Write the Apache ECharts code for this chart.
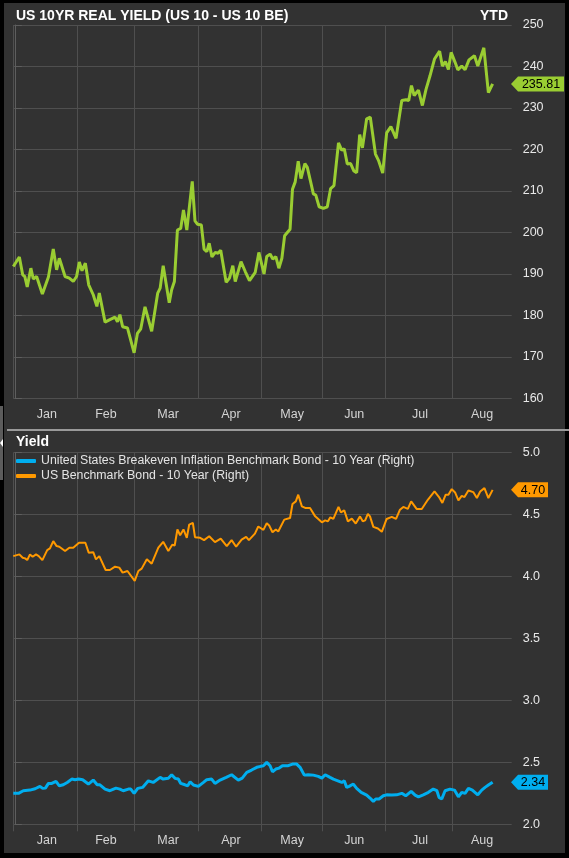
<!DOCTYPE html>
<html>
<head>
<meta charset="utf-8">
<script src="https://cdn.jsdelivr.net/npm/echarts@6/dist/echarts.min.js"></script>
<style>
html,body{margin:0;padding:0;background:#000;}
#c{width:569px;height:858px;}
</style>
</head>
<body>
<div id="c"></div>
<script>
// x positions: trading-session index from the first January session
var monthNames = ['Jan','Feb','Mar','Apr','May','Jun','Jul','Aug'];
var monthStarts = [-0.5, 20.5, 39.5, 60.5, 81.5, 101.5, 122.5, 144.5];
var monthMids = [10.6, 30.1, 50.6, 71.4, 91.6, 112.1, 133.8, 154.3];

// US 10YR real yield (bp)
var realX = [-0.5,1.5,2.6,3.3,4.1,5.3,6.1,7.2,9.1,11.1,12.7,13.8,14.7,16.6,18.0,19.3,20.4,21.3,22.2,23.3,24.4,25.9,27.1,27.9,29.8,31.4,33.1,33.9,34.7,35.6,37.2,39.4,40.5,41.6,43.0,45.2,47.2,48.0,49.0,51.0,51.8,52.7,53.7,54.8,55.7,56.8,58.6,59.5,60.3,61.6,62.5,63.4,64.2,65.1,66.2,67.1,68.0,69.8,70.9,72.0,72.8,74.7,76.1,77.5,79.4,80.6,82.3,83.2,84.3,85.2,86.2,87.2,88.2,89.1,90.9,91.7,92.6,93.6,94.5,95.8,96.6,97.7,98.6,99.4,100.5,101.9,103.2,104.3,105.4,106.9,108.0,108.8,109.8,110.9,112.0,112.9,113.9,114.8,116.2,117.4,119.1,120.1,121.5,122.8,124.2,125.9,127.8,129.2,130.1,131.0,131.9,133.3,134.6,135.8,137.1,138.6,140.3,141.2,142.2,143.2,144.1,145.4,146.3,147.6,148.7,150.0,151.8,152.9,154.9,156.4,157.8];
var realY = [191.8,194.1,189.8,189.4,186.9,191.4,188.8,189.4,185.2,189.3,196.0,191.0,193.8,189.4,189.0,188.2,189.4,192.9,190.8,192.6,187.4,185.0,182.2,185.4,178.4,179.0,179.6,178.5,180.2,177.3,177.0,171.0,175.7,176.8,182.1,176.2,185.4,186.6,192.0,183.1,186.2,188.2,200.6,201.0,205.4,200.6,212.3,202.8,202.0,201.8,196.0,195.4,197.4,194.1,195.2,195.0,195.7,188.0,189.0,192.0,188.2,193.0,190.6,188.4,190.4,195.2,190.0,194.2,194.8,193.6,194.2,191.4,193.8,199.2,200.8,210.4,212.2,217.2,213.0,216.6,215.7,212.2,209.3,209.0,206.2,205.8,206.2,210.6,211.3,221.6,219.8,220.2,216.5,216.6,214.8,214.4,223.6,220.4,227.4,227.8,218.9,217.4,214.3,224.0,225.5,222.7,231.8,232.0,231.8,235.4,233.0,234.3,230.6,234.5,237.7,241.8,243.7,240.1,241.2,239.3,243.4,241.0,239.2,240.1,239.2,241.6,242.6,240.1,244.5,233.7,235.81];

// US Benchmark Bond - 10 Year (%)
var ustX = [-0.5,1.5,2.6,3.4,4.1,5.0,5.9,7.0,7.9,9.1,10.7,11.6,12.7,13.8,14.7,16.6,18.0,19.3,21.2,23.3,24.4,25.9,26.8,27.9,30.0,31.4,33.1,34.5,35.6,37.2,39.6,40.8,41.9,43.6,45.2,47.4,49.0,50.7,52.0,52.8,53.7,54.6,55.7,56.8,57.6,58.8,59.5,61.2,62.5,64.2,66.1,68.0,70.0,71.6,73.1,74.9,76.4,77.3,79.3,80.4,82.1,83.2,84.0,85.1,86.2,87.0,89.0,90.9,91.7,92.8,93.6,94.8,95.9,97.5,99.2,101.4,102.5,103.4,104.2,105.2,106.9,107.7,108.8,110.0,111.3,112.6,114.0,114.9,115.7,116.6,117.3,118.4,119.9,121.2,122.8,124.5,125.9,127.2,128.3,129.8,130.9,132.7,134.4,136.4,138.6,140.1,141.2,142.3,143.2,144.3,145.4,146.5,147.6,148.5,149.8,151.4,152.6,153.7,155.1,156.4,157.8];
var ustY = [4.165,4.179,4.152,4.147,4.133,4.179,4.160,4.179,4.165,4.133,4.213,4.227,4.286,4.246,4.241,4.206,4.233,4.233,4.273,4.273,4.193,4.197,4.139,4.165,4.053,4.053,4.080,4.072,4.032,4.045,3.965,4.045,4.064,4.139,4.104,4.233,4.281,4.206,4.257,4.251,4.380,4.334,4.380,4.313,4.420,4.433,4.318,4.313,4.294,4.326,4.278,4.307,4.246,4.294,4.241,4.299,4.321,4.294,4.347,4.404,4.377,4.430,4.412,4.358,4.380,4.364,4.460,4.473,4.586,4.607,4.661,4.567,4.554,4.554,4.486,4.438,4.454,4.446,4.478,4.465,4.562,4.518,4.534,4.446,4.468,4.428,4.486,4.446,4.454,4.506,4.486,4.401,4.388,4.361,4.465,4.482,4.465,4.540,4.562,4.546,4.607,4.546,4.546,4.620,4.687,4.642,4.594,4.661,4.661,4.706,4.679,4.615,4.652,4.642,4.695,4.682,4.634,4.687,4.714,4.634,4.70];

// United States Breakeven Inflation Benchmark Bond - 10 Year (%)
var beX = [-0.5,1.2,2.8,5.0,6.7,8.3,9.2,10.1,11.1,12.2,13.6,14.7,16.0,17.3,18.8,19.9,21.0,22.4,24.3,25.9,27.2,28.1,29.8,31.4,33.4,34.7,35.8,37.5,38.3,39.4,40.6,42.2,44.1,45.7,48.0,49.0,50.7,51.8,52.9,54.0,54.8,56.2,57.1,57.9,59.0,60.6,62.3,63.4,65.0,66.1,67.8,69.8,71.6,73.8,75.1,76.6,78.2,79.9,81.2,82.1,83.2,84.3,85.1,86.2,87.3,88.4,90.3,91.7,93.1,94.2,95.6,96.9,98.6,100.2,101.4,102.5,104.1,105.2,106.7,108.0,108.8,109.6,110.4,111.8,112.9,114.4,116.2,117.3,118.4,119.2,120.3,121.7,122.8,124.5,126.1,127.8,129.1,130.9,132.2,133.3,134.9,136.6,138.2,139.4,140.1,141.0,142.1,143.7,145.2,146.5,147.6,148.7,149.8,151.1,152.9,154.2,155.3,156.4,157.8];
var beY = [2.250,2.250,2.271,2.276,2.287,2.306,2.290,2.292,2.330,2.330,2.347,2.311,2.319,2.338,2.365,2.360,2.365,2.360,2.325,2.357,2.319,2.319,2.284,2.271,2.292,2.284,2.271,2.284,2.284,2.250,2.290,2.298,2.351,2.338,2.379,2.365,2.371,2.400,2.371,2.365,2.330,2.319,2.311,2.343,2.317,2.306,2.338,2.360,2.365,2.330,2.357,2.379,2.400,2.357,2.373,2.419,2.438,2.460,2.468,2.473,2.500,2.473,2.424,2.446,2.454,2.473,2.473,2.486,2.486,2.460,2.397,2.400,2.397,2.387,2.373,2.400,2.379,2.365,2.351,2.338,2.351,2.298,2.306,2.325,2.290,2.258,2.236,2.212,2.185,2.204,2.204,2.230,2.238,2.236,2.238,2.250,2.230,2.266,2.236,2.222,2.238,2.258,2.284,2.271,2.217,2.204,2.271,2.284,2.276,2.222,2.258,2.250,2.290,2.276,2.238,2.276,2.298,2.317,2.34];

var realTicks = [160,250,10];
var yieldTicks = [2.0,5.0,0.5];

function zip(xs, ys){ return xs.map(function(x,i){ return [x, ys[i]]; }); }

var GREEN = '#9acd32', ORANGE = '#ff9900', BLUE = '#00aeef';
var GRID = '#4f4f4f', AXIS = '#5e5e5e';
var FONT = '"Liberation Sans", Arial, sans-serif';

function tagPoint(xs, ys, color, w, offset, digits){
  var n = xs.length - 1;
  return {
    symbol: 'path://M0,7.5L7,0L' + w + ',0L' + w + ',15L7,15Z',
    symbolSize: [w, 15],
    symbolOffset: [offset, 0],
    itemStyle: { color: color },
    label: { show: true, position: 'inside', offset: [3.5, 0.5], color: '#000', fontSize: 12.5, fontWeight: 'normal', fontFamily: FONT,
      formatter: function(p){ return Number(p.value).toFixed(digits); } },
    animation: false,
    data: [{ coord: [xs[n], ys[n]], value: ys[n] }]
  };
}

function xAxisCfg(gi, ticks){
  return {
    type: 'value', gridIndex: gi, min: -0.5, max: 164.1,
    axisLine: { show: false },
    axisTick: { show: ticks, length: 7, lineStyle: { color: GRID }, customValues: monthStarts },
    splitLine: { show: true, lineStyle: { color: GRID, width: 1 } },
    axisLabel: { customValues: monthMids, color: '#d4d4d4', fontSize: 12.5, margin: 10, fontFamily: FONT,
      formatter: function(v){ var i = monthMids.indexOf(v); return i >= 0 ? monthNames[i] : ''; } }
  };
}

function yAxisCfg(gi, t, digits){
  return {
    type: 'value', gridIndex: gi, position: 'right', min: t[0], max: t[1], interval: t[2],
    axisLine: { show: true, lineStyle: { color: AXIS } },
    axisTick: { show: true, length: 7, lineStyle: { color: AXIS } },
    splitLine: { show: true, lineStyle: { color: GRID, width: 1 } },
    axisLabel: { color: '#e8e8e8', fontSize: 12.5, margin: 11, fontFamily: FONT,
      formatter: function(v){ return v.toFixed(digits); } }
  };
}

var chart = echarts.init(document.getElementById('c'), null, { renderer: 'canvas' });
chart.setOption({
  animation: false,
  backgroundColor: '#323232',
  textStyle: { fontFamily: FONT },
  title: [
    { text: 'US 10YR REAL YIELD (US 10 - US 10 BE)', left: 16, top: 9, padding: 0,
      textStyle: { color: '#ffffff', fontSize: 14, fontWeight: 'bold', fontFamily: FONT } },
    { text: 'YTD', left: 480, top: 9, padding: 0,
      textStyle: { color: '#ffffff', fontSize: 14, fontWeight: 'bold', fontFamily: FONT } },
    { text: 'Yield', left: 16, top: 435, padding: 0,
      textStyle: { color: '#ffffff', fontSize: 14, fontWeight: 'bold', fontFamily: FONT } }
  ],
  legend: {
    data: ['United States Breakeven Inflation Benchmark Bond - 10 Year (Right)', 'US Benchmark Bond - 10 Year (Right)'],
    orient: 'vertical', left: 16, top: 455, padding: 0, itemGap: 3,
    itemWidth: 20, itemHeight: 4, icon: 'roundRect',
    textStyle: { color: '#e4e4e4', fontSize: 12.3, fontFamily: FONT }
  },
  grid: [
    { left: 13.3, right: 57.3, top: 25, height: 373.5 },
    { left: 13.3, right: 57.3, top: 452.7, height: 371.6 }
  ],
  xAxis: [ xAxisCfg(0, false), xAxisCfg(1, true) ],
  yAxis: [ yAxisCfg(0, realTicks, 0), yAxisCfg(1, yieldTicks, 1) ],
  graphic: [
    { type: 'rect', z: 100, shape: { x: 0, y: 0, width: 569, height: 3 }, style: { fill: '#000' } },
    { type: 'rect', z: 100, shape: { x: 0, y: 0, width: 4, height: 858 }, style: { fill: '#000' } },
    { type: 'rect', z: 100, shape: { x: 565, y: 0, width: 4, height: 858 }, style: { fill: '#000' } },
    { type: 'rect', z: 100, shape: { x: 0, y: 853, width: 569, height: 5 }, style: { fill: '#000' } },
    { type: 'rect', z: 100, shape: { x: 0, y: 406, width: 3, height: 74 }, style: { fill: '#5c5c5c' } },
    { type: 'polygon', z: 101, shape: { points: [[3, 439], [0, 443], [3, 447]] }, style: { fill: '#ffffff' } },
    { type: 'rect', z: 100, shape: { x: 7, y: 429, width: 562, height: 2 }, style: { fill: '#9a9a9a' } }
  ],
  series: [
    { name: 'US 10YR REAL YIELD', type: 'line', xAxisIndex: 0, yAxisIndex: 0, data: zip(realX, realY),
      showSymbol: false, symbol: 'none', color: GREEN, lineStyle: { width: 3, color: GREEN },
      markPoint: tagPoint(realX, realY, GREEN, 53, 44.9, 2) },
    { name: 'United States Breakeven Inflation Benchmark Bond - 10 Year (Right)', type: 'line', xAxisIndex: 1, yAxisIndex: 1,
      data: zip(beX, beY), showSymbol: false, symbol: 'none', color: BLUE, lineStyle: { width: 3, color: BLUE },
      markPoint: tagPoint(beX, beY, BLUE, 37, 36.9, 2) },
    { name: 'US Benchmark Bond - 10 Year (Right)', type: 'line', xAxisIndex: 1, yAxisIndex: 1,
      data: zip(ustX, ustY), showSymbol: false, symbol: 'none', color: ORANGE, lineStyle: { width: 2, color: ORANGE },
      markPoint: tagPoint(ustX, ustY, ORANGE, 37, 36.9, 2) }
  ]
});
</script>
</body>
</html>
